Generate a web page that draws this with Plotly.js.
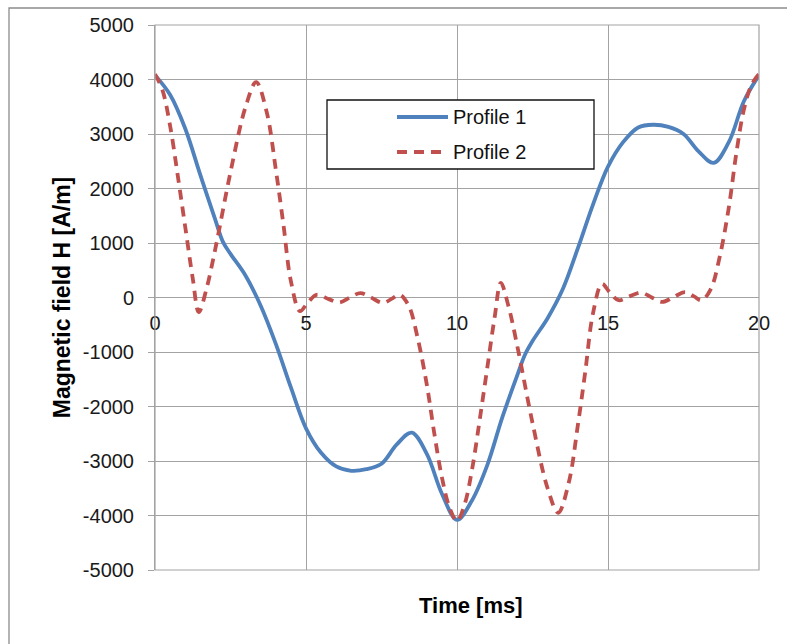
<!DOCTYPE html>
<html>
<head>
<meta charset="utf-8">
<script src="https://cdn.plot.ly/plotly-3.0.1.min.js"></script>
<style>html,body{margin:0;padding:0;background:#fff;}#chart{width:787px;height:644px;}</style>
</head>
<body>
<div id="chart"></div>
<script>
// Profile 1 (blue, solid)
var timeP1 = [0,0.5,1,1.5,2,2.25,2.5,3,3.5,4,4.5,5,5.5,6,6.5,7,7.5,8,8.5,9,9.5,10,
              10.5,11,11.5,12,12.25,12.5,13,13.5,14,14.5,15,15.5,16,16.5,17,17.5,18,18.5,19,19.5,20];
var profile1 = [4080,3720,3100,2250,1420,1020,800,400,-150,-850,-1650,-2400,-2850,-3100,-3180,-3150,-3050,-2700,-2480,-2870,-3600,-4080,
                -3720,-3080,-2200,-1420,-1050,-800,-380,150,900,1700,2400,2850,3120,3170,3130,3000,2680,2470,2850,3600,4080];

// Profile 2 (red, dashed)
var timeP2 = [0,0.25,0.5,0.75,1.0,1.25,1.45,1.7,2.0,2.5,3.0,3.35,3.7,4.0,4.25,4.5,4.8,5.05,5.35,5.75,6.1,6.45,6.8,7.15,7.55,7.85,8.1,8.4,8.7,9.0,9.25,9.5,9.75,10.0,
              10.25,10.5,10.75,11.0,11.25,11.45,11.7,12.0,12.5,13.0,13.35,13.7,14.0,14.25,14.5,14.8,15.05,15.35,15.75,16.1,16.45,16.8,17.15,17.55,17.85,18.1,18.4,18.7,19.0,19.25,19.5,19.75,20];
var profile2 = [4100,3800,3150,2250,1300,350,-270,150,900,2300,3500,3950,3400,2350,1350,300,-250,-100,50,-30,-90,0,80,0,-100,-20,50,-150,-750,-1600,-2500,-3300,-3850,-4100,
                -3800,-3150,-2250,-1300,-350,270,-150,-900,-2300,-3500,-3950,-3400,-2350,-1350,-300,250,100,-50,30,90,0,-80,0,100,20,-50,150,750,1650,2650,3450,3900,4100];

var seriesNames = ['Profile 1','Profile 2'];
var xTickVals = [0,5,10,15,20];
var xTickText = ['0','5','10','15','20'];
var yTickVals = [-5000,-4000,-3000,-2000,-1000,0,1000,2000,3000,4000,5000];
var yTickText = ['-5000','-4000','-3000','-2000','-1000','0','1000','2000','3000','4000','5000'];

var blue = '#4F81BD', red = '#C0504D', grid = '#a3a3a3';
var fontFam = 'Arial, "Liberation Sans", sans-serif';

var traces = [
  {x: timeP1, y: profile1, name: seriesNames[0], mode: 'lines',
   line: {color: blue, width: 3.8, shape: 'spline', smoothing: 1}},
  {x: timeP2, y: profile2, name: seriesNames[1], mode: 'lines',
   line: {color: red, width: 3.8, shape: 'spline', smoothing: 1, dash: '10px,7px'}}
];

var L = 155, R = 759, T = 25, B = 570;
function px(x){ return (x - L) / (R - L); }
function py(y){ return (B - y) / (B - T); }

var layout = {
  width: 787, height: 644,
  margin: {l: L, r: 787 - R, t: T, b: 644 - B},
  paper_bgcolor: '#ffffff', plot_bgcolor: '#ffffff',
  showlegend: false,
  font: {family: fontFam, size: 20, color: '#1a1a1a'},
  xaxis: {
    range: [0, 20], tickvals: xTickVals, ticktext: xTickText,
    anchor: 'free', position: 0.5,
    showgrid: true, gridcolor: grid, gridwidth: 1,
    zeroline: false, showline: false, ticks: '', ticklabelstandoff: 11,
    tickfont: {family: fontFam, size: 20, color: '#1a1a1a'},
    fixedrange: true
  },
  yaxis: {
    range: [-5000, 5000], tickvals: yTickVals, ticktext: yTickText,
    showgrid: true, gridcolor: grid, gridwidth: 1,
    zeroline: false, showline: true, linecolor: grid, linewidth: 1,
    ticks: 'outside', ticklen: 6, tickcolor: grid, ticklabelstandoff: 10,
    tickfont: {family: fontFam, size: 20, color: '#1a1a1a'},
    title: {text: 'Magnetic field H [A/m]', font: {family: fontFam, size: 23, color: '#000', weight: 'bold'}, standoff: 5},
    fixedrange: true
  },
  shapes: [
    {type: 'rect', xref: 'paper', yref: 'paper', x0: 0, x1: 1, y0: 0, y1: 1,
     line: {color: grid, width: 1.2}, layer: 'above'},
    {type: 'rect', xref: 'paper', yref: 'paper', x0: px(9), x1: px(800), y0: py(660), y1: py(8),
     line: {color: '#8c8c8c', width: 1.3}, layer: 'above'},
    {type: 'rect', xref: 'paper', yref: 'paper', x0: px(327), x1: px(594), y0: py(169), y1: py(100),
     line: {color: '#111', width: 1.3}, fillcolor: '#ffffff', layer: 'above'},
    {type: 'line', xref: 'paper', yref: 'paper', x0: px(397), x1: px(448), y0: py(117), y1: py(117),
     line: {color: blue, width: 3.8}, layer: 'above'},
    {type: 'line', xref: 'paper', yref: 'paper', x0: px(397), x1: px(448), y0: py(152), y1: py(152),
     line: {color: red, width: 3.8, dash: '10px,7px'}, layer: 'above'}
  ],
  annotations: [
    {text: seriesNames[0], xref: 'paper', yref: 'paper', x: px(451), y: py(117), xanchor: 'left', yanchor: 'middle',
     showarrow: false, font: {family: fontFam, size: 20, color: '#111'}},
    {text: seriesNames[1], xref: 'paper', yref: 'paper', x: px(451), y: py(152), xanchor: 'left', yanchor: 'middle',
     showarrow: false, font: {family: fontFam, size: 20, color: '#111'}},
    {text: 'Time [ms]', xref: 'paper', yref: 'paper', x: px(471), y: py(605), xanchor: 'center', yanchor: 'middle',
     showarrow: false, font: {family: fontFam, size: 22, color: '#000', weight: 'bold'}}
  ]
};

Plotly.newPlot('chart', traces, layout, {displayModeBar: false, staticPlot: true});
</script>
</body>
</html>
